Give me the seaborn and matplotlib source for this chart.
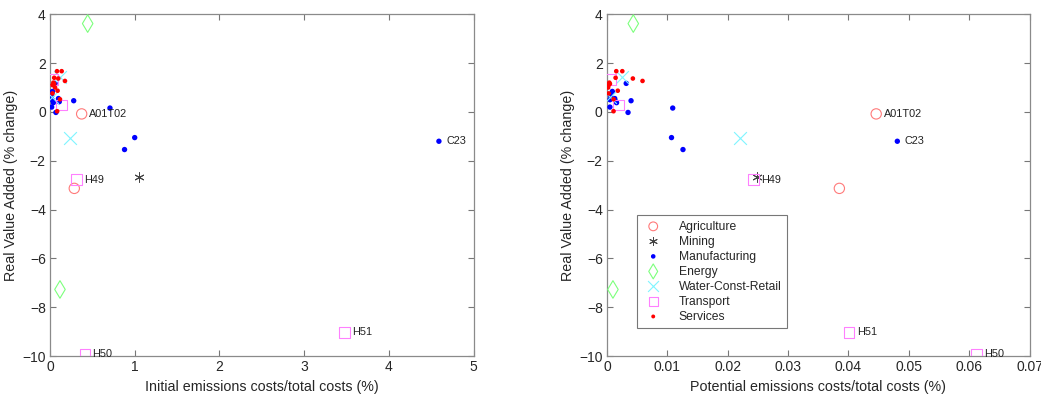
import matplotlib
matplotlib.use("Agg")
import matplotlib.pyplot as plt
import seaborn as sns
import pandas as pd
from matplotlib.markers import MarkerStyle

# ---------------- data ----------------
sectors = ["Agriculture", "Mining", "Manufacturing", "Energy",
           "Water-Const-Retail", "Transport", "Services"]

agri_init = [0.374, 0.287]
agri_pot = [0.0446, 0.0385]
agri_y = [-0.08, -3.13]
agri_lab = ["A01T02", ""]

mining_init = [1.055]
mining_pot = [0.0249]
mining_y = [-2.68]
mining_lab = [""]

manu_init = [4.59, 1.00, 0.88, 0.708, 0.28, 0.07, 0.06, 0.03, 0.02, 0.025, 0.02, 0.10, 0.11, 0.04]
manu_pot = [0.0481, 0.0107, 0.0126, 0.0109, 0.0040, 0.0035, 0.0032, 0.0009, 0.0006, 0.0005, 0.0005, 0.0013, 0.0015, 0.0016]
manu_y = [-1.20, -1.05, -1.54, 0.16, 0.46, -0.02, 1.17, 0.84, 0.66, 0.50, 0.20, 0.55, 0.42, 0.38]
manu_lab = ["C23"] + [""] * 13

energy_init = [0.445, 0.118]
energy_pot = [0.00437, 0.0010]
energy_y = [3.62, -7.27]
energy_lab = ["", ""]

water_init = [0.24, 0.12, 0.02]
water_pot = [0.022, 0.0025, 0.0005]
water_y = [-1.05, 1.45, 0.60]
water_lab = ["", "", ""]

trans_init = [0.315, 3.48, 0.413, 0.03, 0.14]
trans_pot = [0.0243, 0.0401, 0.0612, 0.0006, 0.0019]
trans_y = [-2.78, -9.03, -9.93, 1.33, 0.28]
trans_lab = ["H49", "H51", "H50", "", ""]

serv_init = [0.083, 0.138, 0.098, 0.177, 0.05, 0.04, 0.03, 0.05, 0.09, 0.03, 0.118, 0.085, 0.06]
serv_pot = [0.00155, 0.00255, 0.0043, 0.0059, 0.00144, 0.0004, 0.0003, 0.0005, 0.0018, 0.0003, 0.0011, 0.0011, 0.0002]
serv_y = [1.67, 1.67, 1.37, 1.27, 1.40, 1.20, 1.10, 1.15, 0.87, 0.76, 0.52, 0.03, 1.00]
serv_lab = [""] * 13

y_ticks = [-10, -8, -6, -4, -2, 0, 2, 4]
x1_ticks = [0, 1, 2, 3, 4, 5]
x2_ticks = [0, 0.01, 0.02, 0.03, 0.04, 0.05, 0.06, 0.07]

# ---------------- build frame ----------------
rows = []
for name, xi, xp, yy, lab in [
    ("Agriculture", agri_init, agri_pot, agri_y, agri_lab),
    ("Mining", mining_init, mining_pot, mining_y, mining_lab),
    ("Manufacturing", manu_init, manu_pot, manu_y, manu_lab),
    ("Energy", energy_init, energy_pot, energy_y, energy_lab),
    ("Water-Const-Retail", water_init, water_pot, water_y, water_lab),
    ("Transport", trans_init, trans_pot, trans_y, trans_lab),
    ("Services", serv_init, serv_pot, serv_y, serv_lab),
]:
    for a, b, c, d in zip(xi, xp, yy, lab):
        rows.append(dict(sector=name, init=a, pot=b, y=c, label=d))
df = pd.DataFrame(rows)

styles = {
    "Agriculture": dict(marker="o", color="#ff7a7a", filled=False, s=55, lw=0.8),
    "Mining": dict(marker=(6, 2, 0), color="#444444", filled=False, s=45, lw=0.7),
    "Manufacturing": dict(marker="o", color="#0000ff", filled=True, s=15, lw=0),
    "Energy": dict(marker="d", color="#7cff7c", filled=False, s=80, lw=0.8),
    "Water-Const-Retail": dict(marker="x", color="#7ff5ff", filled=False, s=85, lw=0.8),
    "Transport": dict(marker="s", color="#ff80ff", filled=False, s=60, lw=0.8),
    "Services": dict(marker="o", color="#ff0000", filled=True, s=11, lw=0),
}

sns.set_theme(style="white")
plt.rcParams["font.family"] = ["Liberation Sans", "DejaVu Sans"]

fig = plt.figure(figsize=(10.41, 3.97), dpi=100)
ax1 = fig.add_axes([0.048, 0.103, 0.407, 0.861])
ax2 = fig.add_axes([0.583, 0.103, 0.406, 0.861])

for ax, xcol, xlim, xticks, xlabel in [
    (ax1, "init", (0, 5), x1_ticks, "Initial emissions costs/total costs (%)"),
    (ax2, "pot", (0, 0.07), x2_ticks, "Potential emissions costs/total costs (%)"),
]:
    for sec in sectors:
        st = styles[sec]
        sub = df[df.sector == sec]
        kw = dict(marker=st["marker"], s=st["s"], ax=ax, label=sec, zorder=3)
        if st["filled"]:
            kw.update(color=st["color"], edgecolor="none", linewidth=0)
        elif MarkerStyle(st["marker"]).is_filled():
            kw.update(color=st["color"], facecolor="none", edgecolor=st["color"], linewidth=st["lw"])
        else:
            kw.update(color=st["color"], linewidth=st["lw"])
        sns.scatterplot(data=sub, x=xcol, y="y", **kw)
        for _, r in sub.iterrows():
            if r["label"]:
                ax.annotate(r["label"], (r[xcol], r["y"]), xytext=(5.5, 0),
                            textcoords="offset points", va="center", ha="left",
                            fontsize=7.8, color="#222222", zorder=4)
    ax.set_xlim(*xlim)
    ax.set_ylim(-10, 4)
    ax.set_xticks(xticks)
    ax.set_xticklabels([f"{t:g}" for t in xticks])
    ax.set_yticks(y_ticks)
    ax.set_xlabel(xlabel, fontsize=10.3, color="#262626", labelpad=4)
    ax.set_ylabel("Real Value Added (% change)", fontsize=10.3, color="#262626", labelpad=3)
    ax.tick_params(direction="in", length=4, width=0.8, colors="#777777",
                   labelcolor="#262626", labelsize=10, top=True, right=True,
                   bottom=True, left=True, pad=3)
    for sp in ax.spines.values():
        sp.set_visible(True)
        sp.set_color("#8a8a8a")
        sp.set_linewidth(0.9)
    if ax is ax2:
        leg = ax.legend(loc="lower left", bbox_to_anchor=(0.071, 0.082), borderaxespad=0,
                        fontsize=8.7, frameon=True, fancybox=False, edgecolor="#555555",
                        handletextpad=1.2, borderpad=0.45, labelspacing=0.25,
                        handlelength=1.8, markerscale=0.85)
        leg.get_frame().set_linewidth(0.8)
    else:
        lg = ax.get_legend()
        if lg is not None:
            lg.remove()

fig.savefig("out.png", dpi=100)
